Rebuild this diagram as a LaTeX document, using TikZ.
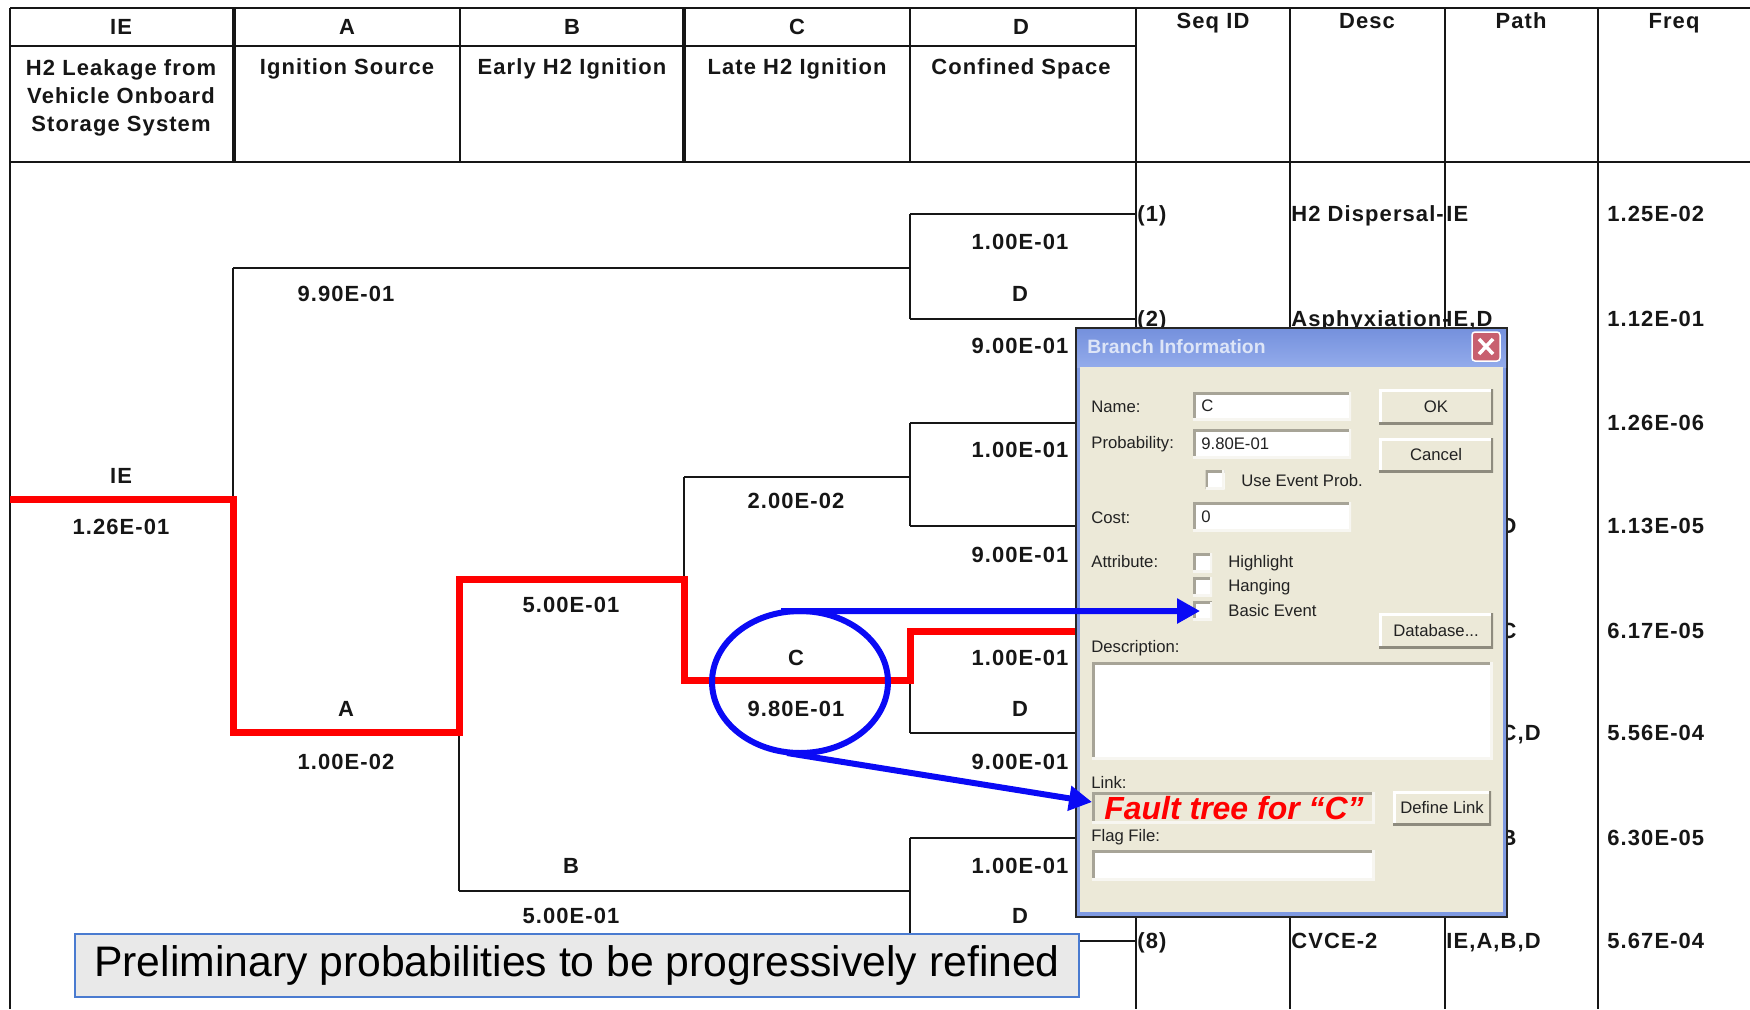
\documentclass[tikz,border=0pt]{standalone}
\usepackage{fontspec}
\setmainfont{Liberation Sans}
\newfontfamily\tabfont[LetterSpace=5]{Liberation Sans}
\usetikzlibrary{shapes.geometric,arrows.meta}
\definecolor{inkc}{HTML}{161616}
\definecolor{pathred}{HTML}{FF0000}
\definecolor{annblue}{HTML}{0A0AF5}
\definecolor{dlgbg}{HTML}{ECE9D8}
\definecolor{frameblue}{HTML}{7F9AE2}
\definecolor{titletop}{HTML}{7591DD}
\definecolor{titlebot}{HTML}{93ABEB}
\definecolor{titletext}{HTML}{DDE5F7}
\definecolor{closered}{HTML}{C8606F}
\definecolor{fldshade}{HTML}{A7A497}
\definecolor{fldlight}{HTML}{F7F6F1}
\definecolor{btnshade}{HTML}{8E8B7E}
\definecolor{dlgtext}{HTML}{222222}
\definecolor{capfill}{HTML}{E9E9E9}
\definecolor{capborder}{HTML}{4A7BD0}
\begin{document}
\begin{tikzpicture}[x=0.02cm,y=-0.02cm,
  tline/.style={line width=0.04cm, inkc},
  thickline/.style={line width=0.08cm, inkc},
  tree/.style={line width=0.04cm, inkc},
  redpath/.style={line width=0.14cm, pathred},
  lbl/.style={font=\tabfont\fontsize{12.5}{15}\selectfont\bfseries, text=inkc, inner sep=0pt},
  hdr/.style={font=\tabfont\fontsize{12.5}{15.9}\selectfont\bfseries, text=inkc, align=center, inner sep=0pt},
  cell/.style={lbl, anchor=base west},
  dlg/.style={font=\fontsize{9.5}{11}\selectfont, text=dlgtext, inner sep=0pt, anchor=west},
  btntext/.style={font=\fontsize{9.5}{11}\selectfont, text=dlgtext},
  sunken/.style={fill=white, inner sep=0pt, outer sep=0pt, path picture={
    \draw[fldshade, line width=0.1cm] (path picture bounding box.south west) -- (path picture bounding box.north west) -- (path picture bounding box.north east);
    \draw[fldlight, line width=0.1cm] (path picture bounding box.north east) -- (path picture bounding box.south east) -- (path picture bounding box.south west);}},
  raised/.style={fill=dlgbg, inner sep=0pt, outer sep=0pt, btntext, path picture={
    \draw[white, line width=0.1cm] (path picture bounding box.south west) -- (path picture bounding box.north west) -- (path picture bounding box.north east);
    \draw[btnshade, line width=0.1cm] (path picture bounding box.north east) -- (path picture bounding box.south east) -- (path picture bounding box.south west);}},
  checkbox/.style={sunken, minimum width=0.38cm, minimum height=0.38cm},
  annline/.style={annblue, line width=0.12cm, -{Triangle[length=0.46cm,width=0.48cm]}}
]
\useasboundingbox (0,0) rectangle (1750,1009);
\fill[white] (0,0) rectangle (1750,1009);

% ---------- table frame ----------
\draw[tline] (10,8) -- (1750,8);
\draw[tline] (10,46) -- (1136,46);
\draw[tline] (10,162) -- (1750,162);
\draw[tline] (10,8) -- (10,1009);
\draw[thickline] (234,8) -- (234,162);
\draw[tline] (460,8) -- (460,162);
\draw[thickline] (684,8) -- (684,162);
\draw[tline] (910,8) -- (910,162);
\foreach \cx in {1136,1290,1445,1598} \draw[tline] (\cx,8) -- (\cx,1009);

% ---------- header texts ----------
\node[lbl] (hIE) at (121,27) {IE};
\node[lbl] (hA) at (347,27) {A};
\node[lbl] (hB) at (572,27) {B};
\node[lbl] (hC) at (797,27) {C};
\node[lbl] (hD) at (1021,27) {D};
\node[lbl, anchor=base] (hSeq) at (1213,28) {Seq ID};
\node[lbl, anchor=base] (hDesc) at (1367,28) {Desc};
\node[lbl, anchor=base] (hPath) at (1521,28) {Path};
\node[lbl, anchor=base] (hFreq) at (1674,28) {Freq};
\node[hdr] (dIE) at (121,97.5) {H2 Leakage from\\Vehicle Onboard\\Storage System};
\node[lbl, anchor=base] (dA) at (347,74.5) {Ignition Source};
\node[lbl, anchor=base] (dB) at (572,74.5) {Early H2 Ignition};
\node[lbl, anchor=base] (dC) at (797,74.5) {Late H2 Ignition};
\node[lbl, anchor=base] (dD) at (1021,74.5) {Confined Space};

% ---------- tree points ----------
\coordinate (ieL) at (10,499);
\coordinate (aX) at (233,499);
\coordinate (aU) at (233,268);  \coordinate (aD) at (233,732);
\coordinate (bX) at (459,732);
\coordinate (bU) at (459,579);  \coordinate (bD) at (459,891);
\coordinate (cX) at (684,579);
\coordinate (cU) at (684,477);  \coordinate (cD) at (684,680);
\coordinate (d1X) at (910,268); \coordinate (d1U) at (910,214); \coordinate (d1D) at (910,319);
\coordinate (d2X) at (910,477); \coordinate (d2U) at (910,423); \coordinate (d2D) at (910,526);
\coordinate (d3X) at (910,680); \coordinate (d3U) at (910,631); \coordinate (d3D) at (910,733);
\coordinate (d4X) at (910,891); \coordinate (d4U) at (910,838); \coordinate (d4D) at (910,941);
\coordinate (e1) at (1136,214); \coordinate (e2) at (1136,319);
\coordinate (e3) at (1136,423); \coordinate (e4) at (1136,526);
\coordinate (e5) at (1136,631); \coordinate (e6) at (1136,733);
\coordinate (e7) at (1136,838); \coordinate (e8) at (1136,941);

% ---------- tree lines ----------
\draw[tree] (aU) -- (aD);
\draw[tree] (aU) -- (d1X);
\draw[tree] (d1U) -- (d1D);
\draw[tree] (d1U) -- (e1);
\draw[tree] (d1D) -- (e2);
\draw[tree] (bU) -- (bD);
\draw[tree] (bD) -- (d4X);
\draw[tree] (cU) -- (cD);
\draw[tree] (cU) -- (d2X);
\draw[tree] (d2U) -- (d2D);
\draw[tree] (d2U) -- (e3);
\draw[tree] (d2D) -- (e4);
\draw[tree] (d3U) -- (d3D);
\draw[tree] (d3U) -- (e5);
\draw[tree] (d3D) -- (e6);
\draw[tree] (d4U) -- (d4D);
\draw[tree] (d4U) -- (e7);
\draw[tree] (d4D) -- (e8);
\draw[redpath] (ieL) -- (aX) -- (aD) -- (bX) -- (bU) -- (cX) -- (cD) -- (d3X) -- (d3U) -- (e5);

% ---------- tree labels ----------
\node[lbl] (lIE) at (121,476) {IE};
\node[lbl] (pIE) at (121,527) {1.26E-01};
\node[lbl] (pAu) at (346,294) {9.90E-01};
\node[lbl] (lA) at (346,709) {A};
\node[lbl] (pAd) at (346,762) {1.00E-02};
\node[lbl] (pBu) at (571,605) {5.00E-01};
\node[lbl] (lB) at (571,866) {B};
\node[lbl] (pBd) at (571,916) {5.00E-01};
\node[lbl] (pCu) at (796,501) {2.00E-02};
\node[lbl] (lC) at (796,658) {C};
\node[lbl] (pCd) at (796,709) {9.80E-01};
\node[lbl] (p1u) at (1020,242) {1.00E-01};
\node[lbl] (l1) at (1020,294) {D};
\node[lbl] (p1d) at (1020,346) {9.00E-01};
\node[lbl] (p2u) at (1020,450) {1.00E-01};
\node[lbl] (p2d) at (1020,555) {9.00E-01};
\node[lbl] (p3u) at (1020,658) {1.00E-01};
\node[lbl] (l3) at (1020,709) {D};
\node[lbl] (p3d) at (1020,762) {9.00E-01};
\node[lbl] (p4u) at (1020,866) {1.00E-01};
\node[lbl] (l4) at (1020,916) {D};

% ---------- right columns ----------
\node[cell] (s1) at (1137,221.5) {(1)};
\node[cell] (s2) at (1137,326.5) {(2)};
\node[cell] (s8) at (1137,948.5) {(8)};
\node[cell] (ds1) at (1291,221.5) {H2 Dispersal-};
\node[cell] (ds2) at (1291,326.5) {Asphyxiation-};
\node[cell] (ds8) at (1291,948.5) {CVCE-2};
\node[cell] (pt1) at (1446,221.5) {IE};
\node[cell] (pt2) at (1446,326.5) {IE,D};
\node[cell] (pt3) at (1446,430.5) {IE,A};
\node[cell] (pt4) at (1446,533.5) {IE,A,D};
\node[cell] (pt5) at (1446,638.5) {IE,A,C};
\node[cell] (pt6) at (1446,740.5) {IE,A,C,D};
\node[cell] (pt7) at (1446,845.5) {IE,A,B};
\node[cell] (pt8) at (1446,948.5) {IE,A,B,D};
\node[cell] (f1) at (1607,221.5) {1.25E-02};
\node[cell] (f2) at (1607,326.5) {1.12E-01};
\node[cell] (f3) at (1607,430.5) {1.26E-06};
\node[cell] (f4) at (1607,533.5) {1.13E-05};
\node[cell] (f5) at (1607,638.5) {6.17E-05};
\node[cell] (f6) at (1607,740.5) {5.56E-04};
\node[cell] (f7) at (1607,845.5) {6.30E-05};
\node[cell] (f8) at (1607,948.5) {5.67E-04};

% ---------- dialog ----------
\fill[black!85] (1075,327) rectangle (1508,918);
\fill[frameblue] (1077,329) rectangle (1506,916);
\shade[top color=titletop, bottom color=titlebot] (1077,329) rectangle (1506,367);
\fill[dlgbg] (1080,367) rectangle (1503,912);
\node[anchor=west, inner sep=0pt, font=\fontsize{11}{13}\selectfont\bfseries, text=titletext] (dtitle) at (1087,347) {Branch Information};
\node[fill=closered, draw=white, line width=0.03cm, rounded corners=0.06cm, minimum width=0.56cm, minimum height=0.58cm, inner sep=0pt] (closeB) at (1486,346.5) {};
\draw[white, line width=0.07cm] ([shift={(-0.14cm,0.15cm)}]closeB.center) -- ([shift={(0.14cm,-0.15cm)}]closeB.center);
\draw[white, line width=0.07cm] ([shift={(0.14cm,0.15cm)}]closeB.center) -- ([shift={(-0.14cm,-0.15cm)}]closeB.center);

\node[dlg] (tName) at (1091,407) {Name:};
\node[dlg] (tProb) at (1091,444) {Probability:};
\node[dlg] (tCost) at (1091,518) {Cost:};
\node[dlg] (tAttr) at (1091,562) {Attribute:};
\node[dlg] (tDesc) at (1091,648) {Description:};
\node[dlg] (tLink) at (1091,782) {Link:};
\node[dlg] (tFlag) at (1091,837) {Flag File:};

\node[sunken, minimum width=3.16cm, minimum height=0.56cm] (nameF) at (1272,406) {};
\node[sunken, minimum width=3.16cm, minimum height=0.58cm] (probF) at (1272,443.5) {};
\node[sunken, minimum width=3.16cm, minimum height=0.58cm] (costF) at (1272,516.5) {};
\node[sunken, minimum width=8.02cm, minimum height=1.94cm] (descF) at (1292.5,710.5) {};
\node[sunken, fill=dlgbg, minimum width=5.66cm, minimum height=0.62cm] (lnk) at (1233.5,807.5) {};
\node[sunken, minimum width=5.66cm, minimum height=0.6cm] (flagF) at (1233.5,865) {};
\node[dlg] (vName) at (1201,406) {C};
\node[dlg] (vProb) at (1201,444) {9.80E-01};
\node[dlg] (vCost) at (1201,517) {0};

\node[raised, minimum width=2.28cm, minimum height=0.7cm] (okB) at (1436,406.5) {OK};
\node[raised, minimum width=2.28cm, minimum height=0.68cm] (cancelB) at (1436,455) {Cancel};
\node[raised, minimum width=2.28cm, minimum height=0.7cm] (dbB) at (1436,630.5) {Database...};
\node[raised, minimum width=1.96cm, minimum height=0.68cm] (defB) at (1442,808) {Define Link};

\node[checkbox] (useCB) at (1215,479.5) {};
\node[dlg] (tUse) at (1241,481) {Use Event Prob.};
\node[checkbox] (hlCB) at (1202.5,562.5) {};
\node[dlg] (tHl) at (1228,563) {Highlight};
\node[checkbox] (hgCB) at (1202.5,586.5) {};
\node[dlg] (tHg) at (1228,587) {Hanging};
\node[checkbox] (beCB) at (1202.5,611) {};
\node[dlg] (tBe) at (1228,611) {Basic Event};

\node[anchor=west, inner sep=0pt, text=pathred, font=\fontsize{18.2}{21}\selectfont\bfseries\itshape] (ftree) at (1104,808) {Fault tree for “C”};

% ---------- caption ----------
\node[draw=capborder, fill=capfill, line width=0.04cm, minimum width=20.08cm, minimum height=1.26cm, inner sep=0pt, font=\fontsize{24.3}{28}\selectfont, text=black] (capn) at (577,965.5) {Preliminary probabilities to be progressively refined};

% ---------- annotations ----------
\node[ellipse, draw=annblue, line width=0.12cm, minimum width=3.52cm, minimum height=2.84cm, inner sep=0pt, outer sep=0pt] (hl) at (800,682) {};
\draw[annline] ([xshift=-0.38cm]hl.north) -- ([xshift=0.14cm]beCB.west);
\draw[annline] ([xshift=-0.26cm]hl.south) -- ([yshift=0.11cm]lnk.west);
\end{tikzpicture}
\end{document}
